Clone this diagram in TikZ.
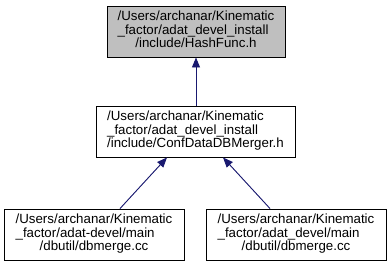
\documentclass[tikz,border=0pt]{standalone}
\usepackage{fontspec}
\setmainfont{Liberation Sans}
\usetikzlibrary{arrows.meta,calc}
\definecolor{edgeblue}{HTML}{191970}
\definecolor{hlgray}{HTML}{BFBFBF}
% three-line file label: first two lines flush left, last line centred
\newcommand\filelabel[3]{\begin{tabular}{@{}l@{}}#1\\#2\\\multicolumn{1}{@{}c@{}}{#3}\end{tabular}}
\tikzset{
  filebox/.style={draw=black, line width=0.9pt, fill=white, inner sep=0pt,
    minimum height=51pt, font=\fontsize{13.3}{13.3}\selectfont},
  hlbox/.style={filebox, fill=hlgray},
  dep/.style={draw=edgeblue, line width=0.9pt,
    -{Triangle[length=10pt,width=8pt]}, fill=edgeblue}
}
\begin{document}
\begin{tikzpicture}[x=1pt,y=-1pt]
  \useasboundingbox (0,0) rectangle (392,263);
  \fill[white] (0,0) rectangle (392,263);
  \node[hlbox, minimum width=178pt] (hash) at (196,31.5)
    {\filelabel{/Users/archanar/Kinematic}{\_factor/adat\_devel\_install}{/include/HashFunc.h}};
  \node[filebox, minimum width=199pt] (merger) at (195.5,131.5)
    {\filelabel{/Users/archanar/Kinematic}{\_factor/adat\_devel\_install}{/include/ConfDataDBMerger.h}};
  \node[filebox, minimum width=180pt] (dbm1) at (94,234.5)
    {\filelabel{/Users/archanar/Kinematic}{\_factor/adat-devel/main}{/dbutil/dbmerge.cc}};
  \node[filebox, minimum width=180pt] (dbm2) at (296,234.5)
    {\filelabel{/Users/archanar/Kinematic}{\_factor/adat\_devel/main}{/dbutil/dbmerge.cc}};
  \draw[dep] ([xshift=0.5pt]merger.north) -- (hash.south);
  \draw[dep] ([xshift=26pt]dbm1.north) -- ([xshift=-28.5pt]merger.south);
  \draw[dep] ([xshift=-26pt]dbm2.north) -- ([xshift=27.5pt]merger.south);
\end{tikzpicture}
\end{document}
